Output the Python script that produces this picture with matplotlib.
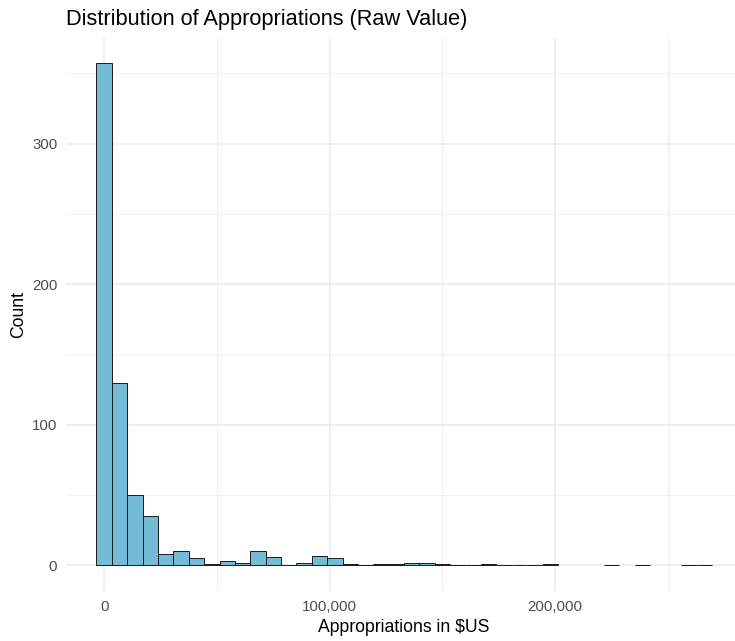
import numpy as np
import matplotlib.pyplot as plt
from matplotlib.ticker import FixedLocator, FuncFormatter

plt.rcParams["font.family"] = ["Liberation Sans", "DejaVu Sans"]

# histogram of appropriations: 40 bins, first bin centred on 0
bin_width = 6820
# counts per bin; nan = bin with no bar drawn
counts = [357, 130, 50, 35, 8, 10, 5, 1, 3, 2,
          10, 6, 0, 2, 7, 5, 1, 0, 1, 1,
          2, 2, 1, 0, 0, 1, 0, 0, 0, 1,
          np.nan, np.nan, np.nan, 0, np.nan, 0, np.nan, np.nan, 0, 0]
x_ticks = [0, 100000, 200000]
x_minor = [50000, 150000, 250000]
y_ticks = [0, 100, 200, 300]
y_minor = [50, 150, 250, 350]

title = "Distribution of Appropriations (Raw Value)"
x_title = "Appropriations in $US"
y_title = "Count"

W, H = 735, 641
fig = plt.figure(figsize=(W / 100, H / 100), dpi=100)
ax = fig.add_axes([65.7 / W, 1 - 590.5 / H, 676.8 / W, 552.1 / H])

counts = np.array(counts, dtype=float)
centers = np.arange(len(counts)) * bin_width
drawn = ~np.isnan(counts)
ax.bar(centers[drawn], counts[drawn], width=bin_width, color="#74BCD6",
       edgecolor="#1a1a1a", linewidth=0.7, zorder=3)

lo, hi = -bin_width / 2, centers[-1] + bin_width / 2
pad = 0.05 * (hi - lo)
ax.set_xlim(lo - pad, hi + pad)
ymax = np.nanmax(counts)
ax.set_ylim(-0.05 * ymax, ymax * 1.05)

ax.xaxis.set_major_locator(FixedLocator(x_ticks))
ax.xaxis.set_minor_locator(FixedLocator(x_minor))
ax.yaxis.set_major_locator(FixedLocator(y_ticks))
ax.yaxis.set_minor_locator(FixedLocator(y_minor))
ax.xaxis.set_major_formatter(FuncFormatter(lambda v, p: f"{int(v):,}"))

ax.grid(which="major", color="#EBEBEB", linewidth=1.1, zorder=0)
ax.grid(which="minor", color="#F0F0F0", linewidth=0.8, zorder=0)
ax.set_axisbelow(True)
for s in ax.spines.values():
    s.set_visible(False)
ax.tick_params(which="both", length=0, labelsize=10.8, labelcolor="#4D4D4D")
ax.tick_params(axis="x", pad=7)
ax.tick_params(axis="y", pad=6)

fig.text(65.7 / W, 1 - 19 / H, title, fontsize=15.7, ha="left", va="center")
fig.text(404 / W, 1 - 628 / H, x_title, fontsize=12.7, ha="center", va="center")
fig.text(19 / W, 1 - 314 / H, y_title, fontsize=12.7, ha="center", va="center",
         rotation=90)

fig.savefig("out.png", dpi=100)
